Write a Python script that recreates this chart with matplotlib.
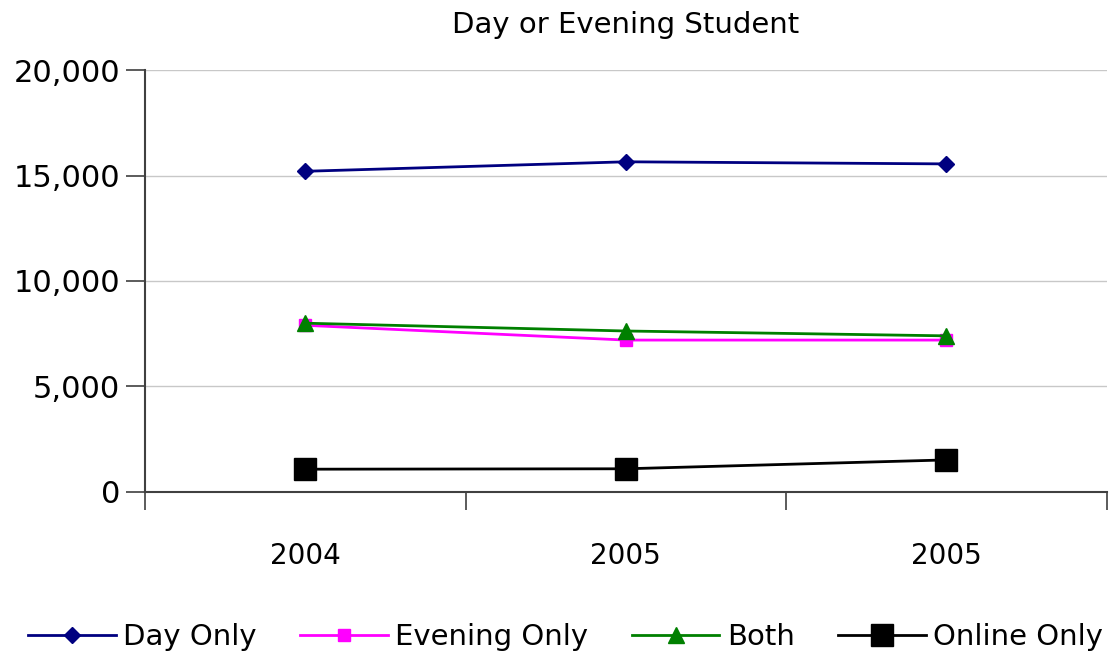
import matplotlib
matplotlib.use('Agg')
import matplotlib.pyplot as plt
from matplotlib.ticker import FuncFormatter, FixedLocator

years = ['2004', '2005', '2005']
day_only = [15200, 15650, 15550]
evening_only = [7900, 7200, 7200]
both = [8000, 7630, 7400]
online_only = [1080, 1100, 1520]

plt.rcParams['font.family'] = ['DejaVu Sans']

fig = plt.figure(figsize=(11.09, 6.58), dpi=100)
ax = fig.add_axes([0.1307, 0.2523, 0.8673, 0.6413])

x = range(len(years))
ax.plot(x, day_only, color='#000080', marker='D', markersize=8, lw=2, label='Day Only')
ax.plot(x, evening_only, color='#ff00ff', marker='s', markersize=8, lw=2, label='Evening Only')
ax.plot(x, both, color='#008000', marker='^', markersize=12, lw=2, label='Both')
ax.plot(x, online_only, color='black', marker='s', markersize=16, lw=2, label='Online Only')

ax.set_xlim(-0.5, len(years) - 0.5)
ax.set_ylim(0, 20000)
ax.set_yticks([0, 5000, 10000, 15000, 20000])
ax.yaxis.set_major_formatter(FuncFormatter(lambda v, p: '{:,.0f}'.format(v)))
ax.yaxis.grid(True, color='#c8c8c8', lw=1)
ax.set_axisbelow(True)

ax.xaxis.set_major_locator(FixedLocator([-0.5, 0.5, 1.5, 2.5]))
ax.xaxis.set_major_formatter(FuncFormatter(lambda v, p: ''))
ax.set_xticks(list(x), minor=True)
ax.set_xticklabels(years, minor=True, fontsize=20)
ax.tick_params(axis='x', which='major', direction='out', length=13, width=1.2, color='#404040')
ax.tick_params(axis='x', which='minor', length=0, pad=36)
ax.tick_params(axis='y', direction='out', length=14, width=1.2, color='#404040', labelsize=22, pad=4)

for s in ['top', 'right']:
    ax.spines[s].set_visible(False)
for s in ['left', 'bottom']:
    ax.spines[s].set_color('#404040')
    ax.spines[s].set_linewidth(1.5)

ax.set_title('Day or Evening Student', fontsize=21, pad=27)

fig.legend(loc='center', bbox_to_anchor=(0.51, 0.032), ncol=4, frameon=False,
           fontsize=21, handlelength=3.0, columnspacing=1.5, handletextpad=0.25,
           borderaxespad=0)

plt.savefig('out.png', dpi=100)
